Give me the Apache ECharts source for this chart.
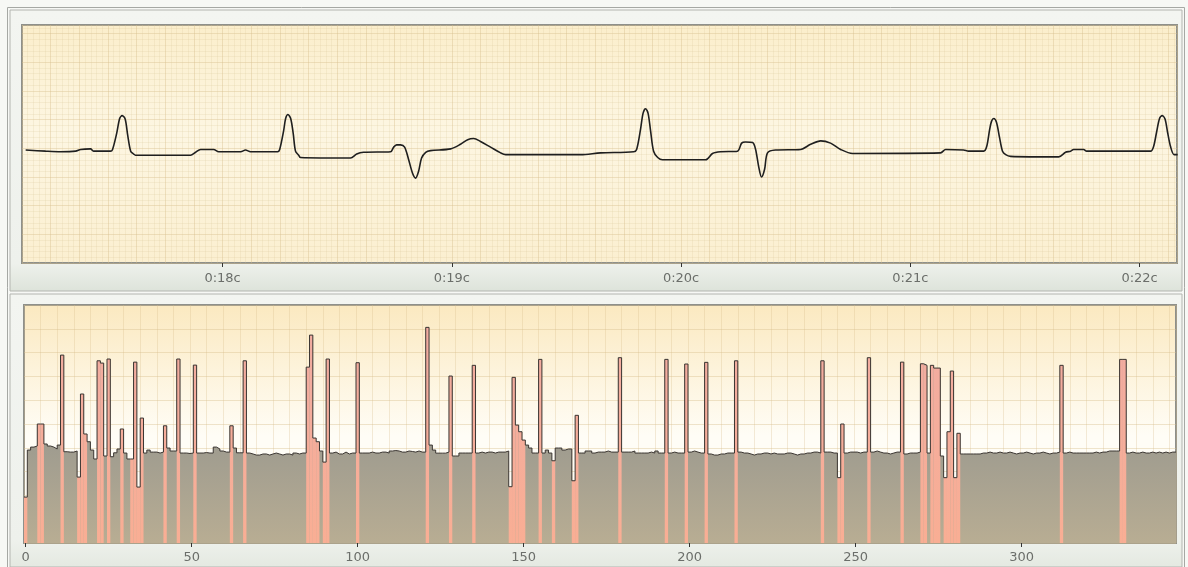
<!DOCTYPE html>
<html>
<head>
<meta charset="utf-8">
<script src="https://cdn.jsdelivr.net/npm/echarts@6/dist/echarts.min.js"></script>
<style>
html, body { margin: 0; padding: 0; background: #f7f8f5; }
#chart { width: 1188px; height: 567px; }
</style>
</head>
<body>
<div id="chart"></div>
<script>
// ECG trace, time in seconds and amplitude in mV
const ecgTime = [
  17.141, 17.228, 17.293, 17.359, 17.381, 17.424, 17.437, 17.511, 17.520, 17.538,
  17.551, 17.562, 17.575, 17.586, 17.599, 17.612, 17.620, 17.860, 17.882, 17.904,
  17.961, 17.983, 18.079, 18.100, 18.122, 18.240, 18.249, 18.266, 18.275, 18.285,
  18.297, 18.308, 18.318, 18.332, 18.340, 18.558, 18.585, 18.615, 18.733, 18.746,
  18.759, 18.776, 18.794, 18.811, 18.829, 18.842, 18.855, 18.868, 18.886, 18.907,
  18.995, 19.038, 19.069, 19.095, 19.125, 19.169, 19.213, 19.235, 19.562, 19.649,
  19.793, 19.806, 19.823, 19.834, 19.845, 19.856, 19.867, 19.880, 19.898, 19.919,
  20.107, 20.137, 20.172, 20.246, 20.264, 20.281, 20.312, 20.325, 20.338, 20.351,
  20.364, 20.377, 20.412, 20.521, 20.565, 20.609, 20.652, 20.696, 20.748, 21.132,
  21.154, 21.232, 21.254, 21.320, 21.333, 21.346, 21.354, 21.364, 21.376, 21.389,
  21.402, 21.416, 21.437, 21.647, 21.677, 21.699, 21.712, 21.756, 21.769, 22.048,
  22.061, 22.074, 22.087, 22.099, 22.111, 22.122, 22.135, 22.150, 22.166
];
const ecgValue = [
  -0.03, -0.05, -0.06, -0.05, -0.02, -0.01, -0.05, -0.05, -0.02, 0.26,
  0.52, 0.57, 0.51, 0.23, -0.05, -0.10, -0.12, -0.12, -0.07, -0.02,
  -0.02, -0.06, -0.06, -0.03, -0.06, -0.06, -0.02, 0.30, 0.52, 0.59,
  0.52, 0.26, -0.05, -0.12, -0.16, -0.17, -0.10, -0.07, -0.06, 0.02,
  0.06, 0.06, 0.02, -0.19, -0.44, -0.52, -0.40, -0.17, -0.07, -0.04,
  -0.01, 0.07, 0.15, 0.17, 0.12, 0.02, -0.08, -0.11, -0.11, -0.08,
  -0.06, -0.02, 0.33, 0.61, 0.69, 0.61, 0.30, -0.05, -0.16, -0.20,
  -0.20, -0.09, -0.06, -0.05, 0.09, 0.11, 0.10, -0.02, -0.31, -0.50,
  -0.37, -0.08, -0.03, -0.02, 0.07, 0.13, 0.09, -0.02, -0.09, -0.08,
  -0.02, -0.03, -0.05, -0.05, 0.03, 0.33, 0.47, 0.52, 0.45, 0.19,
  -0.05, -0.11, -0.14, -0.15, -0.07, -0.05, -0.02, -0.02, -0.05, -0.05,
  0.03, 0.28, 0.52, 0.57, 0.51, 0.28, 0.03, -0.11, -0.11
];

// RR interval (ms) of each beat, beat index 0..346
const rrValues = [
  386, 781, 806, 815, 1000, 1000, 832, 815, 806, 790,
  823, 1579, 767, 764, 764, 773, 554, 1252, 916, 851,
  781, 706, 1531, 1512, 731, 1546, 725, 758, 790, 958,
  756, 706, 706, 1520, 470, 1050, 756, 781, 764, 764,
  756, 764, 985, 798, 773, 773, 1546, 756, 756, 752,
  756, 1495, 756, 756, 760, 756, 756, 806, 790, 773,
  764, 764, 985, 798, 758, 758, 1531, 756, 748, 739,
  739, 748, 748, 739, 748, 756, 748, 739, 748, 748,
  739, 756, 748, 756, 756, 1478, 1747, 882, 851, 773,
  680, 1546, 756, 764, 748, 748, 764, 748, 756, 756,
  1515, 756, 756, 756, 764, 756, 756, 764, 764, 756,
  773, 777, 773, 764, 764, 773, 769, 764, 773, 764,
  764, 1812, 823, 781, 755, 755, 755, 764, 1403, 731,
  731, 756, 756, 756, 756, 1493, 756, 764, 756, 764,
  764, 756, 764, 764, 764, 773, 473, 1392, 991, 935,
  865, 823, 798, 756, 756, 1543, 756, 781, 756, 691,
  798, 798, 781, 790, 790, 523, 1073, 756, 756, 773,
  773, 756, 764, 764, 764, 773, 764, 764, 764, 1557,
  764, 764, 764, 773, 756, 756, 756, 756, 764, 756,
  773, 756, 756, 1543, 756, 764, 756, 756, 756, 1504,
  764, 773, 764, 756, 756, 1518, 748, 739, 739, 748,
  748, 756, 756, 756, 1531, 764, 756, 756, 748, 739,
  748, 748, 756, 756, 748, 756, 748, 748, 748, 756,
  756, 748, 739, 748, 748, 756, 756, 764, 764, 756,
  1531, 764, 764, 756, 756, 549, 1000, 756, 764, 764,
  764, 756, 764, 764, 1557, 764, 773, 764, 756, 756,
  748, 756, 764, 764, 1520, 748, 756, 756, 756, 764,
  1506, 1493, 756, 1493, 1470, 1470, 731, 549, 935, 1445,
  549, 922, 748, 748, 748, 748, 748, 748, 756, 756,
  764, 756, 756, 764, 756, 756, 764, 756, 748, 756,
  756, 764, 756, 748, 756, 756, 764, 756, 748, 756,
  756, 764, 1493, 756, 764, 756, 756, 756, 756, 756,
  756, 756, 764, 756, 764, 764, 773, 773, 773, 773,
  1543, 1543, 756, 764, 756, 756, 764, 756, 756, 764,
  756, 764, 756, 764, 756, 764, 764
];

// beats flagged as abnormal (drawn pink)
const abnormalBeats = [
  0, 4, 5, 11, 16, 17, 18, 22, 23, 25, 29, 32, 33, 34, 35, 42, 46, 51, 62, 66,
  85, 86, 87, 88, 90, 91, 100, 121, 128, 135, 146, 147, 148, 149, 150, 155, 159,
  165, 166, 179, 193, 199, 205, 214, 240, 245, 246, 254, 264, 270, 271, 273, 274,
  275, 277, 278, 279, 280, 281, 312, 330, 331
];

const timeTicks = [18, 19, 20, 21, 22];
const beatTicks = [0, 50, 100, 150, 200, 250, 300];

const chart = echarts.init(document.getElementById('chart'));

const lastIdx = rrValues.length - 1;
const stepData = rrValues.map((v, i) => [i - 0.5, v]);
stepData.push([lastIdx + 0.5, rrValues[lastIdx]]);

const grayFill = new echarts.graphic.LinearGradient(0, 440, 0, 543, [
  { offset: 0, color: '#9e9b8f' },
  { offset: 1, color: '#b8ad93' }
], true);
const pinkFill = new echarts.graphic.LinearGradient(0, 320, 0, 543, [
  { offset: 0, color: '#f1aca2' },
  { offset: 1, color: '#f9ae94' }
], true);

const labelStyle = {
  color: '#6b6e6a',
  fontFamily: 'DejaVu Sans',
  fontSize: 13
};

chart.setOption({
  animation: false,
  graphic: {
    elements: [
      { type: 'rect', z: -10, shape: { x: 10, y: 10, width: 1172, height: 281 },
        style: { fill: new echarts.graphic.LinearGradient(0, 0, 0, 1, [
          { offset: 0, color: '#f3f5f1' }, { offset: 0.9, color: '#eef1ec' }, { offset: 1, color: '#dde3da' }]),
          stroke: '#b3b5b0', lineWidth: 1 } },
      { type: 'rect', z: -10, shape: { x: 10, y: 294, width: 1172, height: 273 },
        style: { fill: new echarts.graphic.LinearGradient(0, 0, 0, 1, [
          { offset: 0, color: '#f3f5f1' }, { offset: 0.9, color: '#eef1ec' }, { offset: 1, color: '#e4e9e1' }]),
          stroke: '#b3b5b0', lineWidth: 1 } },
      { type: 'rect', z: -9, shape: { x: 7.5, y: 7.5, width: 1177, height: 565 },
        style: { fill: 'none', stroke: '#a6a8a4', lineWidth: 1 } }
    ]
  },
  grid: [
    { left: 22, top: 25, width: 1155, height: 238, show: true,
      backgroundColor: new echarts.graphic.LinearGradient(0, 0, 0, 1, [
        { offset: 0, color: '#fbeecb' }, { offset: 0.45, color: '#fdf6e2' }, { offset: 1, color: '#fbefd0' }]),
      borderColor: '#8e908b', borderWidth: 2 },
    { left: 24, top: 305, width: 1152, height: 238, show: true,
      backgroundColor: new echarts.graphic.LinearGradient(0, 0, 0, 1, [
        { offset: 0, color: '#fbe9c0' }, { offset: 0.55, color: '#fffdf6' }, { offset: 1, color: '#fffdf6' }]),
      borderColor: '#8e908b', borderWidth: 2 }
  ],
  xAxis: [
    { type: 'value', gridIndex: 0, min: 17.125, max: 17.125 + 1155 / 229.25, interval: 0.125,
      axisLine: { show: false }, axisTick: { show: false }, axisLabel: { show: false },
      splitLine: { show: true, lineStyle: { color: 'rgba(214,190,140,0.4)', width: 1 } },
      minorTick: { show: false, splitNumber: 5 },
      minorSplitLine: { show: true, lineStyle: { color: 'rgba(220,200,155,0.22)', width: 1 } } },
    { type: 'value', gridIndex: 0, position: 'bottom', min: 17.125, max: 17.125 + 1155 / 229.25,
      axisLine: { show: false }, splitLine: { show: false },
      axisTick: { show: true, length: 4, customValues: timeTicks, lineStyle: { color: '#333' } },
      axisLabel: Object.assign({ customValues: timeTicks, margin: 9,
        formatter: v => '0:' + v + 'с' }, labelStyle) },
    { type: 'value', gridIndex: 1, position: 'bottom', min: -0.5, max: -0.5 + 1152 / 3.32,
      axisLine: { show: false }, splitLine: { show: false },
      axisTick: { show: true, length: 4, customValues: beatTicks, lineStyle: { color: '#333' } },
      axisLabel: Object.assign({ customValues: beatTicks, margin: 8 }, labelStyle) },
    { type: 'value', gridIndex: 1, position: 'top', min: -0.5, max: -0.5 + 1152 / 3.32, interval: 5,
      axisLine: { show: false }, axisTick: { show: false }, axisLabel: { show: false },
      splitLine: { show: true, lineStyle: { color: 'rgba(214,190,140,0.3)', width: 1 } } }
  ],
  yAxis: [
    { type: 'value', gridIndex: 0, min: -2, max: 2.15, interval: 0.5,
      axisLine: { show: false }, axisTick: { show: false }, axisLabel: { show: false },
      splitLine: { show: true, lineStyle: { color: 'rgba(214,190,140,0.4)', width: 1 } },
      minorTick: { show: false, splitNumber: 5 },
      minorSplitLine: { show: true, lineStyle: { color: 'rgba(220,200,155,0.22)', width: 1 } } },
    { type: 'value', gridIndex: 1, min: 0, max: 2000, interval: 200,
      axisLine: { show: false }, axisTick: { show: false }, axisLabel: { show: false },
      splitLine: { show: true, lineStyle: { color: 'rgba(214,190,140,0.4)', width: 1 } } }
  ],
  series: [
    { name: 'ecg', type: 'line', xAxisIndex: 0, yAxisIndex: 0,
      data: ecgTime.map((t, i) => [t, ecgValue[i]]),
      showSymbol: false, smooth: 0.3,
      lineStyle: { color: '#1f1f1f', width: 1.6 } },
    { name: 'rrArea', type: 'line', xAxisIndex: 2, yAxisIndex: 1, step: 'end',
      data: stepData, showSymbol: false, z: 1,
      lineStyle: { width: 0 }, areaStyle: { color: grayFill, opacity: 1 } },
    { name: 'abnormal', type: 'custom', xAxisIndex: 2, yAxisIndex: 1, z: 2, clip: true,
      data: abnormalBeats.map(i => [i, rrValues[i]]),
      renderItem: function (params, api) {
        const i = api.value(0);
        const p0 = api.coord([i - 0.5, api.value(1)]);
        const p1 = api.coord([i + 0.5, 0]);
        return { type: 'rect',
          shape: { x: p0[0], y: p0[1], width: p1[0] - p0[0], height: p1[1] - p0[1] },
          style: { fill: pinkFill } };
      } },
    { name: 'rr', type: 'line', xAxisIndex: 2, yAxisIndex: 1, step: 'end',
      data: stepData, showSymbol: false, z: 3,
      lineStyle: { color: '#3b3632', width: 1 } }
  ]
});
</script>
</body>
</html>
